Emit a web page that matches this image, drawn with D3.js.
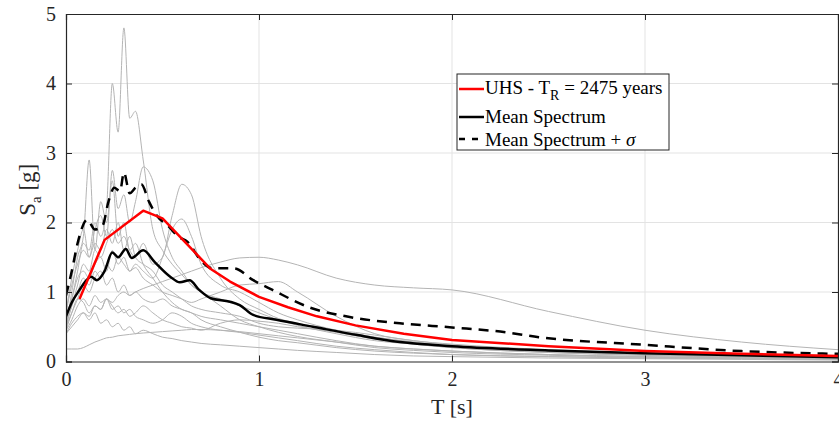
<!DOCTYPE html>
<html><head><meta charset="utf-8">
<script src="https://cdn.jsdelivr.net/npm/d3@7"></script>
<style>
body{margin:0;background:#fff;}
svg{display:block;}
svg text{font-family:"Liberation Serif","Times New Roman","DejaVu Serif",serif;}
</style></head>
<body>
<svg id="chart" width="839" height="421"></svg>
<script>
// ---- data ----
const periods = [0, 0.03, 0.06, 0.09, 0.12, 0.15, 0.18, 0.21, 0.24, 0.27, 0.30, 0.33, 0.36, 0.40, 0.45, 0.5, 0.55, 0.6, 0.65, 0.7, 0.8, 0.9, 1.0, 1.1, 1.2, 1.4, 1.6, 1.8, 2.0, 2.5, 3.0, 3.5, 4.0];
const recA = [0.6, 0.9, 1.3, 1.7, 1.6, 2.0, 1.8, 2.2, 4.0, 3.3, 4.8, 3.5, 3.6, 2.9, 1.9, 1.6, 1.4, 1.25, 1.1, 1.0, 0.8, 0.6, 0.5, 0.42, 0.36, 0.28, 0.2, 0.16, 0.13, 0.09, 0.06, 0.05, 0.04];
const recB = [0.5, 1.0, 1.5, 1.8, 2.9, 1.6, 2.3, 2.0, 2.6, 1.8, 2.0, 1.6, 1.7, 1.4, 1.2, 1.0, 0.85, 0.75, 0.7, 0.6, 0.5, 0.42, 0.35, 0.3, 0.27, 0.2, 0.15, 0.12, 0.1, 0.07, 0.05, 0.04, 0.03];
const recC = [0.7, 1.2, 1.6, 1.9, 1.5, 1.9, 2.1, 1.8, 2.75, 2.2, 2.4, 2.0, 2.3, 2.8, 2.6, 1.9, 1.5, 1.3, 1.1, 1.0, 0.9, 0.8, 0.7, 0.6, 0.52, 0.4, 0.3, 0.25, 0.2, 0.13, 0.09, 0.07, 0.05];
const recD = [0.5, 0.8, 1.1, 1.4, 1.3, 1.6, 1.5, 1.7, 1.9, 1.7, 1.8, 1.6, 1.5, 1.7, 1.4, 1.5, 2.1, 2.55, 2.4, 1.8, 1.2, 0.9, 0.75, 0.62, 0.55, 0.45, 0.35, 0.28, 0.22, 0.15, 0.1, 0.08, 0.06];
const recE = [0.6, 0.9, 1.2, 1.3, 1.2, 1.4, 1.5, 1.3, 1.6, 1.4, 1.5, 1.3, 1.4, 1.3, 1.2, 1.5, 1.9, 2.05, 1.8, 1.4, 1.1, 1.0, 0.85, 0.7, 0.6, 0.45, 0.35, 0.28, 0.22, 0.15, 0.1, 0.08, 0.06];
const recF = [0.4, 0.5, 0.6, 0.7, 0.65, 0.8, 0.75, 0.9, 0.85, 0.95, 1.0, 0.95, 1.0, 1.05, 1.1, 1.15, 1.2, 1.25, 1.3, 1.35, 1.43, 1.49, 1.5, 1.46, 1.39, 1.2, 1.1, 1.06, 1.03, 0.72, 0.45, 0.28, 0.17];
const recG = [0.18, 0.18, 0.18, 0.2, 0.24, 0.28, 0.31, 0.34, 0.35, 0.37, 0.38, 0.39, 0.4, 0.41, 0.42, 0.43, 0.44, 0.45, 0.46, 0.46, 0.45, 0.43, 0.4, 0.37, 0.34, 0.28, 0.22, 0.18, 0.15, 0.1, 0.07, 0.05, 0.04];
const recH = [0.5, 0.7, 0.9, 1.1, 1.0, 1.2, 1.3, 1.1, 1.2, 1.0, 1.1, 0.95, 1.0, 0.9, 0.85, 0.9, 0.8, 0.75, 0.7, 0.65, 0.6, 0.55, 0.5, 0.45, 0.4, 0.3, 0.22, 0.18, 0.15, 0.1, 0.07, 0.05, 0.04];
const recI = [0.45, 0.6, 0.8, 0.9, 0.8, 0.95, 0.85, 0.9, 0.75, 0.8, 0.7, 0.75, 0.65, 0.6, 0.55, 0.6, 0.7, 0.65, 0.55, 0.5, 0.45, 0.42, 0.38, 0.34, 0.3, 0.22, 0.17, 0.13, 0.1, 0.07, 0.05, 0.04, 0.03];
const recJ = [0.4, 0.55, 0.65, 0.7, 0.6, 0.7, 0.55, 0.6, 0.5, 0.55, 0.45, 0.5, 0.4, 0.45, 0.4, 0.35, 0.33, 0.3, 0.28, 0.26, 0.24, 0.22, 0.2, 0.18, 0.16, 0.13, 0.1, 0.08, 0.07, 0.05, 0.04, 0.03, 0.02];
const recK = [0.55, 0.8, 1.0, 1.2, 1.1, 1.3, 1.2, 1.4, 1.3, 1.5, 1.4, 1.3, 1.35, 1.2, 1.1, 1.0, 0.95, 0.9, 0.85, 0.9, 1.0, 1.1, 1.12, 1.15, 1.0, 0.65, 0.4, 0.3, 0.25, 0.17, 0.12, 0.09, 0.07];
const recL = [0.7, 1.1, 1.4, 1.6, 1.5, 1.7, 1.6, 1.9, 1.7, 2.0, 1.6, 1.8, 1.5, 1.4, 1.3, 1.1, 1.0, 0.9, 0.8, 0.75, 0.7, 0.65, 0.55, 0.5, 0.48, 0.45, 0.38, 0.3, 0.24, 0.15, 0.1, 0.07, 0.05];
const recM = [0.45, 0.7, 0.9, 0.85, 0.7, 0.8, 0.75, 0.9, 0.8, 0.7, 0.75, 0.65, 0.7, 0.8, 0.7, 0.6, 0.55, 0.5, 0.48, 0.45, 0.55, 0.6, 0.58, 0.55, 0.5, 0.42, 0.32, 0.25, 0.2, 0.13, 0.09, 0.06, 0.05];
const records = [recA, recB, recC, recD, recE, recF, recG, recH, recI, recJ, recK, recL, recM];

const meanT  = [0, 0.03, 0.07, 0.1, 0.13, 0.16, 0.2, 0.24, 0.27, 0.31, 0.34, 0.40, 0.46, 0.54, 0.59, 0.64, 0.69, 0.75, 0.85, 0.9, 0.97, 1.09, 1.28, 1.51, 1.73, 2.0, 2.5, 3.0, 3.5, 4.0];
const meanSa = [0.65, 0.85, 1.03, 1.15, 1.22, 1.17, 1.3, 1.57, 1.5, 1.62, 1.49, 1.6, 1.43, 1.22, 1.14, 1.17, 1.03, 0.91, 0.86, 0.81, 0.67, 0.6, 0.5, 0.38, 0.28, 0.22, 0.16, 0.12, 0.09, 0.06];

const sigT  = [0, 0.03, 0.06, 0.11, 0.15, 0.19, 0.22, 0.25, 0.28, 0.30, 0.33, 0.36, 0.39, 0.43, 0.47, 0.53, 0.58, 0.63, 0.7, 0.76, 0.87, 0.97, 1.07, 1.26, 1.47, 1.73, 2.0, 2.25, 2.45, 3.0, 3.5, 4.0];
const sigSa = [0.95, 1.3, 1.7, 2.04, 1.9, 1.96, 2.3, 2.5, 2.45, 2.72, 2.42, 2.5, 2.55, 2.3, 2.1, 1.95, 1.8, 1.72, 1.45, 1.34, 1.34, 1.17, 1.03, 0.78, 0.64, 0.55, 0.49, 0.43, 0.35, 0.24, 0.15, 0.11];

const uhsT  = [0.07, 0.2, 0.4, 0.5, 0.75, 0.85, 1.0, 1.15, 1.3, 1.5, 1.75, 2.0, 2.5, 3.0, 3.5, 4.0];
const uhsSa = [0.9, 1.75, 2.17, 2.06, 1.33, 1.15, 0.93, 0.78, 0.65, 0.52, 0.4, 0.31, 0.22, 0.15, 0.11, 0.08];

const xTicks = [0, 1, 2, 3, 4];
const yTicks = [0, 1, 2, 3, 4, 5];

// ---- chart ----
const svg = d3.select("#chart");
const L = 66, R = 838, T0 = 14, B = 361.5;
const x = d3.scaleLinear().domain([0, 4]).range([L, R]);
const y = d3.scaleLinear().domain([0, 5]).range([B, T0]);
const axisCol = "#262626";
const serif = '"Liberation Serif","Times New Roman","DejaVu Serif",serif';

svg.append("defs").append("clipPath").attr("id","clip")
  .append("rect").attr("x", L).attr("y", T0).attr("width", R-L).attr("height", B-T0);

// grid
const grid = svg.append("g");
grid.selectAll("line.gx").data(xTicks.slice(1,-1)).join("line")
  .attr("x1", d=>x(d)).attr("x2", d=>x(d)).attr("y1", T0).attr("y2", B)
  .attr("stroke", "#e3e3e3").attr("stroke-width", 1);
grid.selectAll("line.gy").data(yTicks.slice(1,-1)).join("line")
  .attr("y1", d=>y(d)).attr("y2", d=>y(d)).attr("x1", L).attr("x2", R)
  .attr("stroke", "#e3e3e3").attr("stroke-width", 1);

const plot = svg.append("g").attr("clip-path","url(#clip)");
const lineRec = d3.line().x((d,i)=>x(periods[i])).y(d=>y(d)).curve(d3.curveMonotoneX);
plot.selectAll("path.rec").data(records).join("path")
  .attr("d", lineRec).attr("fill","none").attr("stroke","#b4b4b4").attr("stroke-width",1);

plot.append("path").datum(d3.zip(meanT, meanSa))
  .attr("d", d3.line().x(d=>x(d[0])).y(d=>y(d[1])).curve(d3.curveMonotoneX))
  .attr("fill","none").attr("stroke","#000").attr("stroke-width",2.5);
plot.append("path").datum(d3.zip(sigT, sigSa))
  .attr("d", d3.line().x(d=>x(d[0])).y(d=>y(d[1])).curve(d3.curveMonotoneX))
  .attr("fill","none").attr("stroke","#000").attr("stroke-width",2.5).attr("stroke-dasharray","10,7");
plot.append("path").datum(d3.zip(uhsT, uhsSa))
  .attr("d", d3.line().x(d=>x(d[0])).y(d=>y(d[1])).curve(d3.curveLinear))
  .attr("fill","none").attr("stroke","#ff0000").attr("stroke-width",2.5).attr("stroke-linejoin","round");

// axes (MATLAB style box with inward ticks)
const xAxis = d3.axisBottom(x).tickValues(xTicks).tickSize(-6).tickPadding(10).tickFormat(d3.format("d"));
const yAxis = d3.axisLeft(y).tickValues(yTicks).tickSize(-6).tickPadding(10).tickFormat(d3.format("d"));
const gx = svg.append("g").attr("transform",`translate(0,${B})`).call(xAxis);
const gy = svg.append("g").attr("transform",`translate(${L},0)`).call(yAxis);
const gx2 = svg.append("g").attr("transform",`translate(0,${T0})`).call(d3.axisTop(x).tickValues(xTicks).tickSize(-6).tickFormat(""));
const gy2 = svg.append("g").attr("transform",`translate(${R},0)`).call(d3.axisRight(y).tickValues(yTicks).tickSize(-6).tickFormat(""));
[gx, gy, gx2, gy2].forEach(g => {
  g.attr("font-family", serif).attr("font-size", null);
  g.select(".domain").attr("stroke", axisCol).attr("stroke-width", 1.2);
  g.selectAll(".tick line").attr("stroke", axisCol);
  g.selectAll(".tick text").attr("fill", axisCol).style("font-family", serif).style("font-size", "20px");
});

// axis labels
svg.append("text").attr("x", (L+R)/2).attr("y", 414).attr("text-anchor","middle")
  .style("font-size","22px").attr("fill", axisCol).text("T [s]");
const yl = svg.append("text").attr("transform", `translate(35,${(T0+B)/2 + 2}) rotate(-90)`).attr("text-anchor","middle")
  .style("font-size","23px").attr("fill", axisCol);
yl.append("tspan").text("S");
yl.append("tspan").attr("dy", 6).style("font-size","15px").text("a");
yl.append("tspan").attr("dy", -6).text(" [g]");

// legend
const lg = svg.append("g");
lg.append("rect").attr("x", 457).attr("y", 74).attr("width", 212).attr("height", 76)
  .attr("fill","#fff").attr("stroke", axisCol).attr("stroke-width", 1);
const legItems = [
  {y: 89, color: "#ff0000", dash: null},
  {y: 117, color: "#000", dash: null},
  {y: 139, color: "#000", dash: "6,7"}
];
lg.selectAll("line.li").data(legItems).join("line")
  .attr("x1", 459).attr("x2", 484).attr("y1", d=>d.y).attr("y2", d=>d.y)
  .attr("stroke", d=>d.color).attr("stroke-width", 2.5).attr("stroke-dasharray", d=>d.dash);
const t1 = lg.append("text").attr("x", 485).attr("y", 94).style("font-size","19px").attr("fill","#000");
t1.append("tspan").text("UHS - T");
t1.append("tspan").attr("dy", 6).style("font-size","14px").text("R");
t1.append("tspan").attr("dy", -6).text(" = 2475 years");
lg.append("text").attr("x", 485).attr("y", 123).style("font-size","19px").attr("fill","#000").text("Mean Spectrum");
const t3 = lg.append("text").attr("x", 485).attr("y", 146).style("font-size","19px").attr("fill","#000");
t3.append("tspan").text("Mean Spectrum + ");
t3.append("tspan").style("font-style","italic").text(" σ");
</script>
</body></html>
